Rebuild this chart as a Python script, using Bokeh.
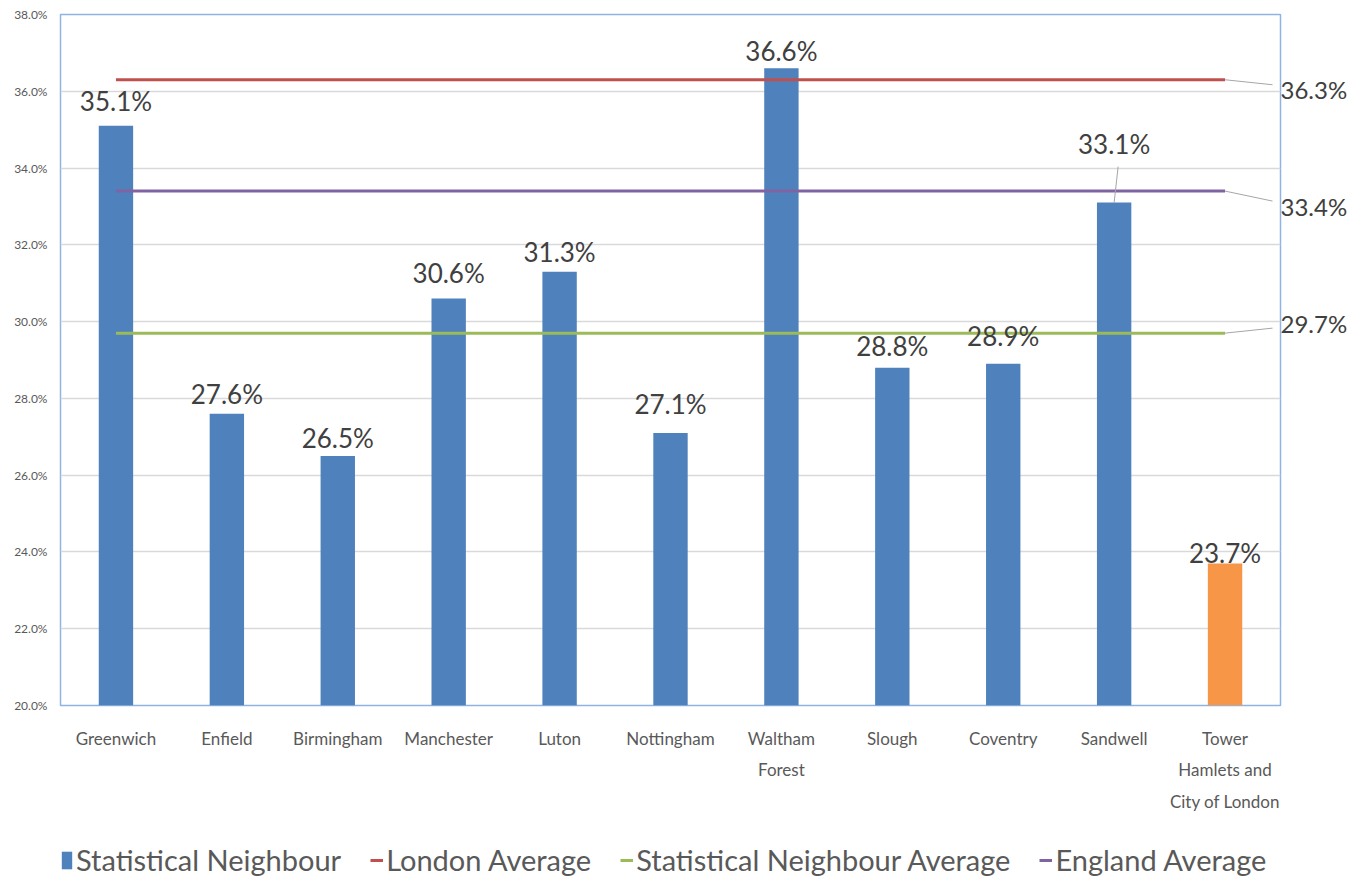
from bokeh.plotting import figure
from bokeh.layouts import column
from bokeh.models import (Range1d, FixedTicker, SingleIntervalTicker, PrintfTickFormatter,
                          LinearAxis, Legend, LegendItem, ColumnDataSource)
from bokeh.core.properties import value
from bokeh.embed import file_html
from bokeh.resources import INLINE

# ---------------- data ----------------
categories = ["Greenwich", "Enfield", "Birmingham", "Manchester", "Luton", "Nottingham",
              "Waltham Forest", "Slough", "Coventry", "Sandwell",
              "Tower Hamlets and City of London"]
tick_labels = {"Waltham Forest": "Waltham\nForest",
               "Tower Hamlets and City of London": "Tower\nHamlets and\nCity of London"}
values = [35.1, 27.6, 26.5, 30.6, 31.3, 27.1, 36.6, 28.8, 28.9, 33.1, 23.7]
highlight = "Tower Hamlets and City of London"
london_avg = 36.3
sn_avg = 29.7
england_avg = 33.4
y_min, y_max, y_step = 20, 38, 2

# ---------------- style ----------------
FONT = "Lato"
BLUE, ORANGE = "#4F81BD", "#F79646"
RED, GREEN, PURPLE = "#C0504D", "#9BBB59", "#8064A2"
TEXT_DARK, TEXT_GREY = "#404040", "#595959"
W, H, LH = 1350, 830, 50
FL, FR, FT, FB = 60, 1283, 14, 705          # frame edges in canvas px
n = len(categories)
px_per_cat = (FR - FL) / n
px_per_unit = (FB - FT) / (y_max - y_min)
label_lift = [25, 20, 18, 26, 20, 29, 17, 22, 28, 59, 10]   # px above bar top
right_shift = {london_avg: 10, england_avg: 15, sn_avg: -10}  # px, + = down

xc = [i + 0.5 for i in range(n)]   # category slot centres on the linear x scale

p = figure(width=W, height=H, x_range=Range1d(0, n),
           y_range=Range1d(y_min, y_max), output_backend="svg", toolbar_location=None,
           min_border_left=FL, min_border_right=W - FR, min_border_top=FT,
           min_border_bottom=H - FB)
p.background_fill_color = "white"
p.border_fill_color = "white"
p.outline_line_color = "#8EB4E3"
p.outline_line_width = 1.5

colors = [ORANGE if c == highlight else BLUE for c in categories]
src = ColumnDataSource(dict(x=xc, top=values, color=colors,
                            label=[f"{v:.1f}%" for v in values],
                            yoff=[-l for l in label_lift]))
p.vbar(x="x", top="top", bottom=y_min, width=0.31, source=src,
       fill_color="color", line_color=None)

series = [("London Average", london_avg, RED),
          ("Statistical Neighbour Average", sn_avg, GREEN),
          ("England Average", england_avg, PURPLE)]
for name, val, col in series:
    p.line(x=xc, y=[val] * n, line_color=col, line_width=3)

p.text(x="x", y="top", text="label", source=src, y_offset="yoff",
       text_align="center", text_baseline="alphabetic",
       text_font=value(FONT), text_font_size="26px", text_color=TEXT_DARK)

# leader for Sandwell label
si = categories.index("Sandwell")
p.segment(x0=[xc[si]], y0=[values[si]], x1=[xc[si] + 4 / px_per_cat],
          y1=[values[si] + 36 / px_per_unit],
          line_color="#A6A6A6", line_width=1)

# leaders from line ends to the right-hand value labels
for name, val, col in series:
    shift = right_shift[val]
    end_shift = shift - 5 if shift > 0 else shift + 5
    p.segment(x0=[xc[-1]], y0=[val], x1=[n - 8 / px_per_cat],
              y1=[val - end_shift / px_per_unit],
              line_color="#A6A6A6", line_width=1)

# right-hand value labels as a right axis
rticks = [val - right_shift[val] / px_per_unit for _, val, _ in series]
raxis = LinearAxis(ticker=FixedTicker(ticks=rticks),
                   major_label_overrides={t: f"{val:.1f}%" for t, (_, val, _) in zip(rticks, series)},
                   major_label_text_font=FONT, major_label_text_font_size="24px",
                   major_label_text_color=TEXT_DARK, major_label_standoff=0,
                   axis_line_color=None, major_tick_line_color=None,
                   minor_tick_line_color=None, major_tick_out=0, major_tick_in=0)
p.add_layout(raxis, "right")

# axes
p.yaxis[0].ticker = SingleIntervalTicker(interval=y_step)
p.yaxis[0].formatter = PrintfTickFormatter(format="%.1f%%")
p.yaxis[0].major_label_text_font = FONT
p.yaxis[0].major_label_text_font_size = "12px"
p.yaxis[0].major_label_text_color = TEXT_GREY
p.yaxis[0].major_label_standoff = 9
p.xaxis.ticker = FixedTicker(ticks=xc)
p.xaxis.major_label_overrides = {x: tick_labels.get(c, c) for x, c in zip(xc, categories)}
p.xaxis.major_label_text_font = FONT
p.xaxis.major_label_text_font_size = "17px"
p.xaxis.major_label_text_color = TEXT_GREY
p.xaxis.major_label_text_line_height = 1.5
p.xaxis.major_label_standoff = 22
for ax in (p.xaxis[0], p.yaxis[0]):
    ax.axis_line_color = None
    ax.major_tick_line_color = None
    ax.minor_tick_line_color = None
    ax.major_tick_out = 0
    ax.major_tick_in = 0
p.xgrid.grid_line_color = None
p.ygrid.grid_line_color = "#D9D9D9"
p.ygrid.grid_line_width = 1.5

# ---------------- legend strip ----------------
lf = figure(width=W, height=LH, x_range=Range1d(0, 1), y_range=Range1d(0, 1),
            x_axis_location=None, y_axis_location=None,
            output_backend="svg", toolbar_location=None, min_border=0,
            min_border_left=0, min_border_right=0, min_border_top=0, min_border_bottom=0)
lf.grid.visible = False
lf.outline_line_color = None
lf.background_fill_color = "white"
lf.border_fill_color = "white"
leg_bar = lf.quad(left=[5], right=[6], top=[5], bottom=[4], fill_color=BLUE, line_color=None)
items = [LegendItem(label="Statistical Neighbour", renderers=[leg_bar])]
for name, val, col in series:
    r = lf.line(x=[5, 6], y=[5, 5], line_color=col, line_width=3)
    items.append(LegendItem(label=name, renderers=[r]))
legend = Legend(items=items, orientation="horizontal", location=(0, 3))
legend.label_text_font = FONT
legend.label_text_font_size = "29px"
legend.label_text_color = TEXT_GREY
legend.glyph_width = 13
legend.glyph_height = 22
legend.label_standoff = 3
legend.spacing = 29
legend.padding = 0
legend.margin = 0
legend.border_line_color = None
legend.background_fill_alpha = 0
lf.add_layout(legend)

layout = column(p, lf, spacing=0)
open("out.html", "w").write(file_html(layout, INLINE))
